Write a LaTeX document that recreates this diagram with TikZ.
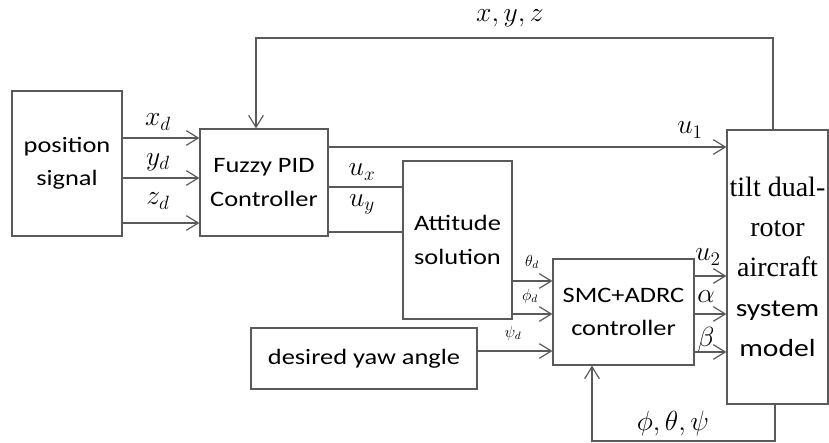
\documentclass[tikz,border=0pt]{standalone}
\usepackage{fontspec}
\setsansfont{Carlito}[FakeStretch=1.2]
\newfontfamily\timesfont{Liberation Serif}
\usetikzlibrary{
	positioning,
	arrows.meta
}
\definecolor{LineGray}{RGB}{90,90,90}
\newcommand\pxu{0.75pt}

\begin{document}
\begin{tikzpicture}[
	x=0.75pt,
	y=-0.75pt,
	block/.style={
		draw=LineGray,
		line width=0.9pt,
		inner sep=0pt,
		align=center,
		font=\sffamily\fontsize{16.5}{25}\selectfont
	},
	sig/.style={
		LineGray,
		line width=0.9pt
	},
	lbl/.style={
		inner sep=0pt,
		font=\fontsize{20}{20}\selectfont
	},
	smalllbl/.style={
		inner sep=0pt,
		font=\fontsize{12}{12}\selectfont
	},
	>={Straight Barb[length=9pt,width=11pt]}
	]
				
				\useasboundingbox (0,0) rectangle (829,443);
				
				\node[
				block,
				minimum width=110*\pxu,
				minimum height=145*\pxu
				]
				(POSSIG) at (67,163.5)
				{position\\signal};
				
				\node[
				block,
				minimum width=128*\pxu,
				minimum height=107*\pxu
				]
				(FUZZY) at (264,182.5)
				{Fuzzy PID\\Controller};
				
				\node[
				block,
				minimum width=109*\pxu,
				minimum height=158*\pxu
				]
				(ATT) at (457.5,240)
				{Attitude\\solution};
				
				\node[
				block,
				minimum width=141*\pxu,
				minimum height=106*\pxu
				]
				(SMC) at (623.5,312)
				{SMC+ADRC\\controller};
				
				\node[
				block,
				minimum width=226*\pxu,
				minimum height=61*\pxu
				]
				(YAW) at (364,358.5)
				{desired yaw angle};
				
				\node[
				block,
				minimum width=101*\pxu,
				minimum height=274*\pxu,
				font=\sffamily\fontsize{18.5}{30}\selectfont
				]
				(TILT) at (777.5,267)
				{\timesfont\fontsize{21}{30}\selectfont tilt dual-\\
				\timesfont\fontsize{21}{30}\selectfont rotor\\
				\timesfont\fontsize{21}{30}\selectfont aircraft\\system\\model};
				
				% position signal -> fuzzy PID
				\draw[sig,->] (POSSIG.east |- 0,138) -- (FUZZY.west |- 0,138);
				\draw[sig,->] (POSSIG.east |- 0,178) -- (FUZZY.west |- 0,178);
				\draw[sig,->] (POSSIG.east |- 0,223) -- (FUZZY.west |- 0,223);
				
				\node[lbl] (XD) at (158,122) {$x_d$};
				\node[lbl] (YD) at (158,162) {$y_d$};
				\node[lbl] (ZD) at (158,201) {$z_d$};
				
				% fuzzy PID outputs
				\draw[sig,->] (FUZZY.east |- 0,147) -- (TILT.west |- 0,147);
				\draw[sig] (FUZZY.east |- 0,187) -- (ATT.west |- 0,187);
				\draw[sig] (FUZZY.east |- 0,232) -- (ATT.west |- 0,232);
				
				\node[lbl] (U1) at (690,130) {$u_1$};
				\node[lbl] (UX) at (362,172) {$u_x$};
				\node[lbl] (UY) at (362,204) {$u_y$};
				
				% attitude solution and yaw -> SMC+ADRC
				\draw[sig,->] (ATT.east |- 0,281) -- (SMC.west |- 0,281);
				\draw[sig,->] (ATT.east |- 0,314) -- (SMC.west |- 0,314);
				\draw[sig,->] (YAW.east |- 0,351) -- (SMC.west |- 0,351);
				
				\node[smalllbl] (THD) at (532,262) {$\theta_d$};
				\node[smalllbl] (PHD) at (530,296) {$\phi_d$};
				\node[smalllbl] (PSD) at (513,333) {$\psi_d$};
				
				% SMC+ADRC -> tilt model
				\draw[sig,->] (SMC.east |- 0,276) -- (TILT.west |- 0,276);
				\draw[sig,->] (SMC.east |- 0,314) -- (TILT.west |- 0,314);
				\draw[sig,->] (SMC.east |- 0,352) -- (TILT.west |- 0,352);
				
				\node[lbl] (U2) at (708,257) {$u_2$};
				\node[lbl] (ALPHA) at (706,297) {$\alpha$};
				\node[lbl] (BETA) at (706,340) {$\beta$};
				
				% feedback loops
				\draw[sig,->] (TILT.north -| 773,0) |- (256,38) -- (FUZZY.north -| 256,0);
				\draw[sig,->] (TILT.south -| 775,0) |- (592,441) -- (SMC.south -| 592,0);
				
				\node[lbl] (XYZ) at (510,18) {$x,y,z$};
				\node[lbl] (ANG) at (673,424) {$\phi,\theta,\psi$};
				
			\end{tikzpicture}
\end{document}
